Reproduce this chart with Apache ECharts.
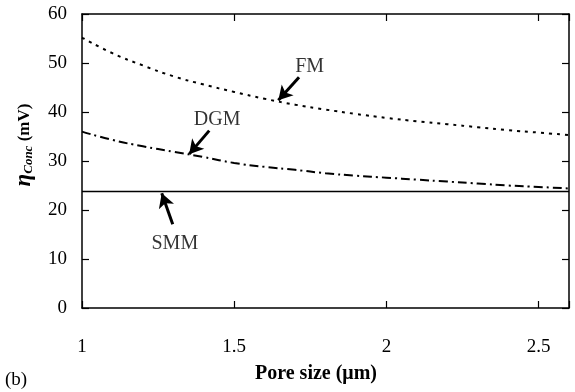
<!DOCTYPE html>
<html>
<head>
<meta charset="utf-8">
<script src="https://cdn.jsdelivr.net/npm/echarts@6/dist/echarts.min.js"></script>
<style>
html,body{margin:0;padding:0;background:#fff;}
#chart{width:575px;height:392px;}
</style>
</head>
<body>
<div id="chart"></div>
<script>
// pore size (um)
var poreSize = [1.0, 1.1, 1.2, 1.3, 1.4, 1.5, 1.6, 1.7, 1.8, 1.9, 2.0, 2.1, 2.2, 2.3, 2.4, 2.5, 2.6];
// eta conc (mV)
var fmValues  = [55.2, 52.0, 49.5, 47.3, 45.6, 44.1, 42.7, 41.5, 40.5, 39.6, 38.8, 38.1, 37.5, 36.9, 36.3, 35.8, 35.3];
var dgmValues = [36.0, 34.3, 33.0, 31.9, 30.8, 29.6, 28.8, 28.2, 27.5, 27.0, 26.6, 26.2, 25.8, 25.4, 25.0, 24.7, 24.4];
var smmValues = [23.8, 23.8, 23.8, 23.8, 23.8, 23.8, 23.8, 23.8, 23.8, 23.8, 23.8, 23.8, 23.8, 23.8, 23.8, 23.8, 23.8];
var xTicks = [1, 1.5, 2, 2.5];
var yTicks = [0, 10, 20, 30, 40, 50, 60];

// annotation text and arrows (data coords)
var noteLabels = [[1.748, 49.3, 'FM'], [1.444, 38.5, 'DGM'], [1.305, 13.2, 'SMM']];
var fmArrow  = [[1.713, 47.1], [1.645, 42.4]];
var dgmArrow = [[1.418, 36.2], [1.352, 31.4]];
var smmArrow = [[1.298, 17.1], [1.262, 23.4]];

function pairs(xs, ys){
	var out = [];
	for(var i=0;i<xs.length;i++){
		out.push([xs[i], ys[i]]);
	}
	return out;
}
function arrow(a){
	return {
		silent: true,
		symbol: ['none', 'arrow'],
		symbolSize: [12, 14],
		lineStyle: {type: 'solid', width: 3, color: '#000'},
		label: {show: false},
		emphasis: {disabled: true},
		data: [[{coord: a[0]}, {coord: a[1]}]]
	};
}

var font = 'Liberation Serif';
var myChart = echarts.init(document.getElementById('chart'));
var frame = {show: true, onZero: false, lineStyle: {color: '#000', width: 1.5}};
var ticks = {show: true, inside: true, length: 7, lineStyle: {color: '#000', width: 1.2}};

var option = {
	animation: false,
	grid: {left: 82, right: 6, top: 14, bottom: 84},
	xAxis: [{
		type: 'value',
		min: 1, max: 2.6, interval: 0.5,
		axisLine: frame, axisTick: ticks,
		splitLine: {show: false},
		axisLabel: {
			margin: 30, color: '#000', fontFamily: font, fontSize: 19,
			formatter: function(v){ return xTicks.indexOf(v) >= 0 ? String(v) : ''; }
		},
		name: 'Pore size (\u03bcm)',
		nameLocation: 'middle',
		nameGap: 56,
		nameTextStyle: {color: '#000', fontFamily: font, fontSize: 20, fontWeight: 'bold', padding: [0, 19, 0, 0]}
	}, {
		type: 'value', position: 'top',
		min: 1, max: 2.6, interval: 0.5,
		axisLine: frame, axisTick: ticks,
		axisLabel: {show: false}, splitLine: {show: false}
	}],
	yAxis: [{
		type: 'value',
		min: 0, max: 60, interval: 10,
		axisLine: frame, axisTick: ticks,
		splitLine: {show: false},
		axisLabel: {
			margin: 15, color: '#000', fontFamily: font, fontSize: 19,
			formatter: function(v){ return yTicks.indexOf(v) >= 0 ? String(v) : ''; }
		},
		name: '{e|\u03b7}{s|Conc}{b| (mV)}',
		nameLocation: 'middle',
		nameRotate: 90,
		nameGap: 46,
		nameTextStyle: {
			color: '#000', fontFamily: font, padding: [0, 0, 0, 32],
			rich: {
				e: {fontFamily: font, fontSize: 23, fontStyle: 'italic', fontWeight: 'bold', color: '#000'},
				s: {fontFamily: font, fontSize: 13, fontStyle: 'italic', fontWeight: 'bold', color: '#000', padding: [9, 0, 0, 0]},
				b: {fontFamily: font, fontSize: 17, fontWeight: 'bold', color: '#000'}
			}
		}
	}, {
		type: 'value', position: 'right',
		min: 0, max: 60, interval: 10,
		axisLine: frame, axisTick: ticks,
		axisLabel: {show: false}, splitLine: {show: false}
	}],
	graphic: [{
		type: 'text', left: 5, top: 371,
		style: {text: '(b)', fill: '#000', font: '19px "Liberation Serif"'}
	}],
	series: [{
		name: 'FM', type: 'line', smooth: true, showSymbol: false,
		data: pairs(poreSize, fmValues),
		lineStyle: {color: '#000', width: 2, type: [3, 5]},
		markLine: arrow(fmArrow)
	}, {
		name: 'DGM', type: 'line', smooth: true, showSymbol: false,
		data: pairs(poreSize, dgmValues),
		lineStyle: {color: '#000', width: 2, type: [9, 4, 2, 4]},
		markLine: arrow(dgmArrow)
	}, {
		name: 'SMM', type: 'line', showSymbol: false,
		data: pairs(poreSize, smmValues),
		lineStyle: {color: '#000', width: 1.5, type: 'solid'},
		markLine: arrow(smmArrow)
	}, {
		name: 'notes', type: 'scatter', symbolSize: 0, silent: true,
		data: noteLabels,
		label: {
			show: true, position: 'inside', color: '#000', fontFamily: font, fontSize: 20,
			formatter: function(p){ return p.value[2]; }
		}
	}]
};
myChart.setOption(option);
</script>
</body>
</html>
